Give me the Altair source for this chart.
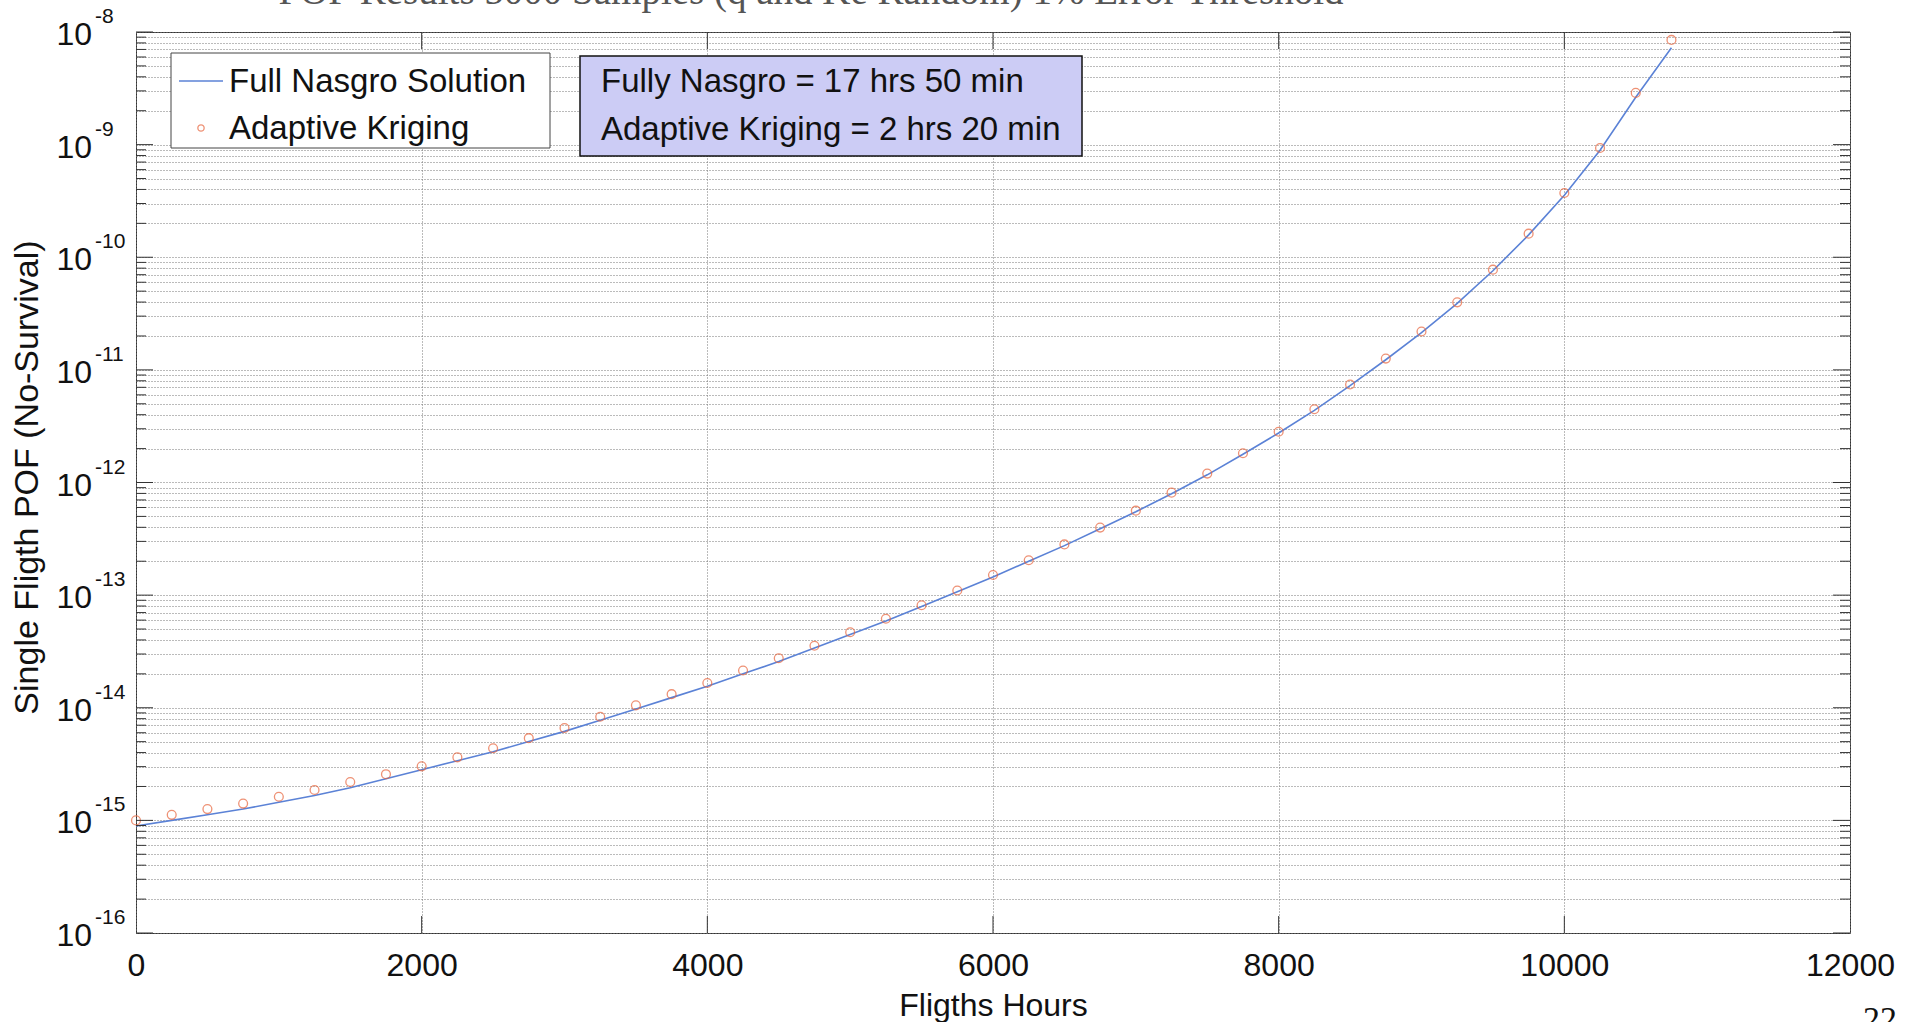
import altair as alt
import pandas as pd

# ---------------- data ----------------
hours = [0, 250, 500, 750, 1000, 1250, 1500, 1750, 2000, 2250, 2500, 2750,
         3000, 3250, 3500, 3750, 4000, 4250, 4500, 4750, 5000, 5250, 5500, 5750,
         6000, 6250, 6500, 6750, 7000, 7250, 7500, 7750, 8000, 8250, 8500, 8750,
         9000, 9250, 9500, 9750, 10000, 10250, 10500, 10750]

kriging_pof = [1.00e-15, 1.12e-15, 1.26e-15, 1.41e-15, 1.62e-15, 1.86e-15, 2.19e-15, 2.57e-15,
               3.02e-15, 3.63e-15, 4.37e-15, 5.37e-15, 6.61e-15, 8.32e-15, 1.05e-14, 1.32e-14,
               1.66e-14, 2.14e-14, 2.75e-14, 3.55e-14, 4.68e-14, 6.17e-14, 8.13e-14, 1.10e-13,
               1.51e-13, 2.04e-13, 2.82e-13, 3.98e-13, 5.62e-13, 8.13e-13, 1.20e-12, 1.82e-12,
               2.82e-12, 4.47e-12, 7.41e-12, 1.26e-11, 2.19e-11, 3.98e-11, 7.76e-11, 1.62e-10,
               3.72e-10, 9.33e-10, 2.88e-09, 8.51e-09]

nasgro_pof = [8.91e-16, 1.00e-15, 1.12e-15, 1.26e-15, 1.45e-15, 1.66e-15, 1.95e-15, 2.34e-15,
              2.82e-15, 3.39e-15, 4.07e-15, 5.01e-15, 6.17e-15, 7.76e-15, 9.77e-15, 1.23e-14,
              1.55e-14, 2.00e-14, 2.57e-14, 3.39e-14, 4.47e-14, 5.89e-14, 7.94e-14, 1.07e-13,
              1.45e-13, 2.00e-13, 2.75e-13, 3.89e-13, 5.50e-13, 7.94e-13, 1.17e-12, 1.78e-12,
              2.75e-12, 4.37e-12, 7.24e-12, 1.23e-11, 2.14e-11, 3.89e-11, 7.59e-11, 1.58e-10,
              3.55e-10, 8.91e-10, 2.63e-09, 7.24e-09]

x_ticks = [0, 2000, 4000, 6000, 8000, 10000, 12000]
y_decades = [1e-16, 1e-15, 1e-14, 1e-13, 1e-12, 1e-11, 1e-10, 1e-09, 1e-08]
y_exponents = ["-16", "-15", "-14", "-13", "-12", "-11", "-10", "-9", "-8"]
minor_mult = [2, 3, 4, 5, 6, 7, 8, 9]

series_names = ["Full Nasgro Solution", "Adaptive Kriging"]
note_lines = ["Fully Nasgro = 17 hrs 50 min", "Adaptive Kriging = 2 hrs 20 min"]
title_text = "POF Results 5000 Samples (q and Ke Random) 1% Error Threshold"
page_number = "22"

# ---------------- layout ----------------
W, H = 1714, 901
FONT = "Liberation Sans, Arial, Helvetica, sans-serif"
SERIF = "Liberation Serif, Times New Roman, serif"
GRID = "#777777"
DASH = [1, 2]
LINE_C = "#5b82d6"
PT_C = "#e8643c"

minor_vals = [m * d for d in y_decades[:-1] for m in minor_mult]
all_y = sorted(minor_vals + y_decades)

xs = alt.Scale(domain=[0, 12000], nice=False, zero=False)
ys = alt.Scale(type="log", domain=[1e-16, 1e-08], nice=False)

x_axis = alt.Axis(values=x_ticks, format="d", grid=True, gridDash=DASH, gridColor=GRID,
                  gridWidth=1, ticks=False, tickSize=0, domain=False, labelFlush=False,
                  labelOverlap=False, labelFont=FONT, labelFontSize=32, labelColor="#111",
                  labelPadding=17, title="Fligths Hours", titleFont=FONT, titleFontSize=32,
                  titleFontWeight="normal", titleColor="#111", titleY=82,
                  titleBaseline="alphabetic")
y_axis = alt.Axis(values=all_y, grid=True, gridDash=DASH, gridColor=GRID, gridWidth=1,
                  ticks=False, tickSize=0, domain=False, labels=False,
                  title="Single Fligth POF (No-Survival)", titleFont=FONT, titleFontSize=34,
                  titleFontWeight="normal", titleColor="#111", titleAngle=-90,
                  titleX=-99, titleY=445, titleAlign="center",
                  titleBaseline="alphabetic")

X = alt.X("hours:Q", scale=xs, axis=x_axis)
Y = alt.Y("pof:Q", scale=ys, axis=y_axis)

line_df = pd.DataFrame({"hours": hours, "pof": nasgro_pof})
pts_df = pd.DataFrame({"hours": hours, "pof": kriging_pof})

line = alt.Chart(line_df).mark_line(color=LINE_C, strokeWidth=1.6).encode(x=X, y=Y)
points = alt.Chart(pts_df).mark_point(shape="circle", filled=False, size=78, strokeWidth=1.3,
                                      color=PT_C).encode(x=X, y=Y)

# inward ticks
maj_df = pd.DataFrame({"pof": y_decades})
min_df = pd.DataFrame({"pof": minor_vals})
xt_df = pd.DataFrame({"hours": x_ticks[1:-1]})
TICK_C = "#333"
ticks = [
    alt.Chart(maj_df).mark_rule(color=TICK_C, strokeWidth=1).encode(y=Y, x=alt.value(0), x2=alt.value(17)),
    alt.Chart(maj_df).mark_rule(color=TICK_C, strokeWidth=1).encode(y=Y, x=alt.value(W - 17), x2=alt.value(W)),
    alt.Chart(min_df).mark_rule(color=TICK_C, strokeWidth=1).encode(y=Y, x=alt.value(0), x2=alt.value(10)),
    alt.Chart(min_df).mark_rule(color=TICK_C, strokeWidth=1).encode(y=Y, x=alt.value(W - 10), x2=alt.value(W)),
    alt.Chart(xt_df).mark_rule(color=TICK_C, strokeWidth=1).encode(x=X, y=alt.value(0), y2=alt.value(17)),
    alt.Chart(xt_df).mark_rule(color=TICK_C, strokeWidth=1).encode(x=X, y=alt.value(H - 17), y2=alt.value(H)),
]

# y tick labels 10^k
lab_df = pd.DataFrame({"pof": y_decades, "exp": y_exponents, "base": ["10"] * len(y_decades)})
ylab_base = alt.Chart(lab_df).mark_text(align="right", baseline="alphabetic", dy=13, font=FONT,
                                        fontSize=32, color="#111").encode(
    y=Y, x=alt.value(-44), text="base:N")
ylab_exp = alt.Chart(lab_df).mark_text(align="left", baseline="alphabetic", dy=-9, font=FONT,
                                       fontSize=21, color="#111").encode(
    y=Y, x=alt.value(-41), text="exp:N")

one = pd.DataFrame({"k": [0]})

# legend
leg_box = alt.Chart(one).mark_rect(fill="white", stroke="#444", strokeWidth=1).encode(
    x=alt.value(35), x2=alt.value(414), y=alt.value(21), y2=alt.value(116))
leg_line = alt.Chart(one).mark_rule(color=LINE_C, strokeWidth=1.6).encode(
    x=alt.value(43), x2=alt.value(87), y=alt.value(49))
leg_pt = alt.Chart(one).mark_point(shape="circle", filled=False, size=40, strokeWidth=1.3,
                                   color=PT_C).encode(x=alt.value(65), y=alt.value(96))
leg_t1 = alt.Chart(one).mark_text(align="left", baseline="middle", font=FONT, fontSize=33,
                                  color="#111").encode(x=alt.value(93), y=alt.value(50),
                                                       text=alt.value(series_names[0]))
leg_t2 = alt.Chart(one).mark_text(align="left", baseline="middle", font=FONT, fontSize=33,
                                  color="#111").encode(x=alt.value(93), y=alt.value(97),
                                                       text=alt.value(series_names[1]))

# annotation box
note_box = alt.Chart(one).mark_rect(fill="#ccccf5", stroke="#111", strokeWidth=1.5).encode(
    x=alt.value(444), x2=alt.value(946), y=alt.value(24), y2=alt.value(124))
note_t1 = alt.Chart(one).mark_text(align="left", baseline="middle", font=FONT, fontSize=33,
                                   color="#111").encode(x=alt.value(465), y=alt.value(50),
                                                        text=alt.value(note_lines[0]))
note_t2 = alt.Chart(one).mark_text(align="left", baseline="middle", font=FONT, fontSize=33,
                                   color="#111").encode(x=alt.value(465), y=alt.value(98),
                                                        text=alt.value(note_lines[1]))

# clipped slide title and page number
title_mark = alt.Chart(one).mark_text(align="center", baseline="alphabetic", font=SERIF,
                                      fontSize=39, color="#555").encode(
    x=alt.value(675), y=alt.value(-28), text=alt.value(title_text))
page_mark = alt.Chart(one).mark_text(align="center", baseline="alphabetic", font=SERIF,
                                     fontSize=34, color="#111").encode(
    x=alt.value(1744), y=alt.value(998), text=alt.value(page_number))

chart = alt.layer(
    line, points, *ticks, ylab_base, ylab_exp,
    leg_box, leg_line, leg_pt, leg_t1, leg_t2,
    note_box, note_t1, note_t2, title_mark, page_mark
).properties(
    width=W, height=H,
    autosize=alt.AutoSizeParams(type="none"),
    padding={"left": 136, "top": 32, "right": 57, "bottom": 89},
    background="white",
).configure_view(stroke="#333", strokeWidth=1)

chart.save("out.html", embed_options={"renderer": "svg", "actions": False})
